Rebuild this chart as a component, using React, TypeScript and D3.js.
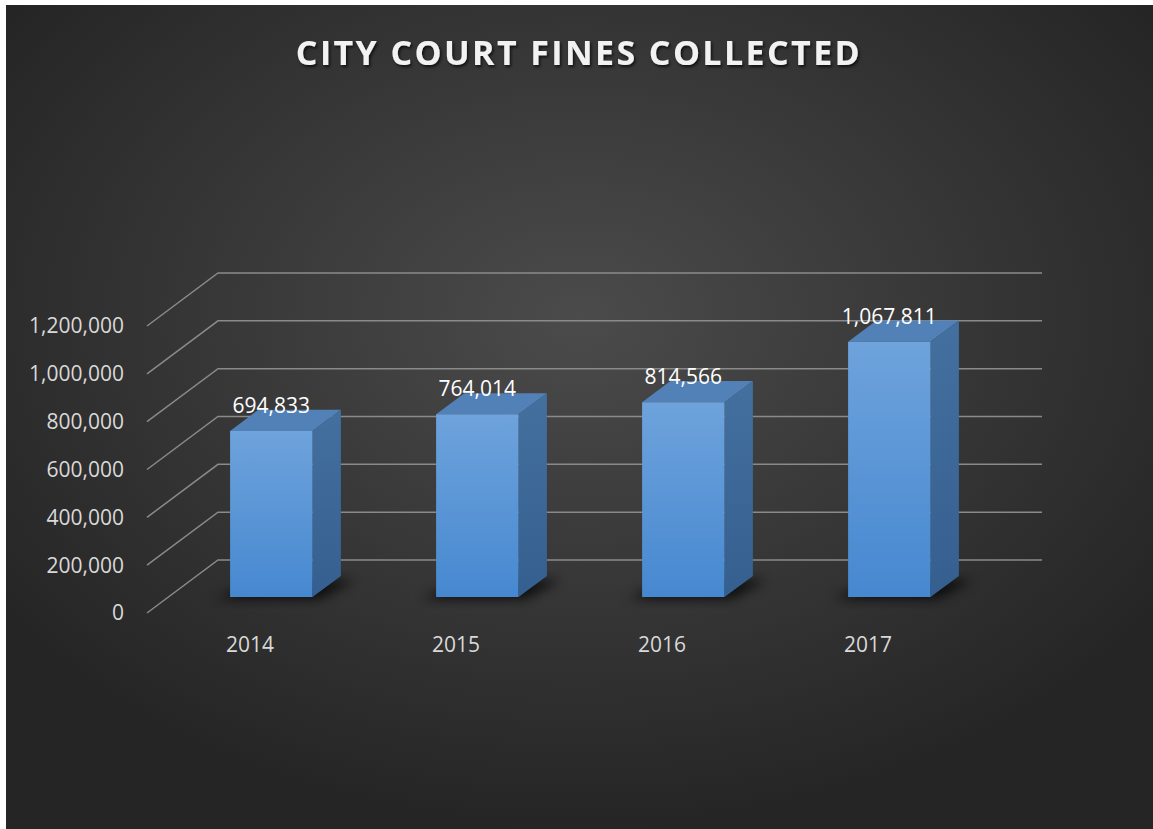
import React from "react";
import * as d3 from "d3";

const years = ["2014", "2015", "2016", "2017"];
const fines = [694833, 764014, 814566, 1067811];
const yTicks = [0, 200000, 400000, 600000, 800000, 1000000, 1200000];

const W = 1153;
const H = 829;
// oblique 3d offset from the front of the floor to the back wall
const DX = 71;
const DY = -53;
const D0 = 0.3;
const D1 = 0.7;

const x = d3.scaleBand().domain(years).range([147, 971]).paddingInner(0.6).paddingOuter(0.3);
const y = d3.scaleLinear().domain([0, 1200000]).range([613, 326]);
const fmt = d3.format(",");

const pt = (px: number, py: number, d: number) => [px + DX * d, py + DY * d];
const poly = (pts: number[][]) => d3.line()(pts as [number, number][]) + "Z";

const font = "'Open Sans', 'Noto Sans', sans-serif";

export default function App() {
  const bw = x.bandwidth();
  return (
    <svg width={W} height={H} style={{ position: "absolute", left: 0, top: 0 }} fontFamily={font}>
      <defs>
        <radialGradient id="bg" cx="50%" cy="38%" r="62%">
          <stop offset="0%" stopColor="#4b4b4b" />
          <stop offset="55%" stopColor="#363636" />
          <stop offset="100%" stopColor="#252525" />
        </radialGradient>
        <linearGradient id="front" x1="0" y1="0" x2="0" y2="1">
          <stop offset="0%" stopColor="#6ea3dc" />
          <stop offset="100%" stopColor="#4688d0" />
        </linearGradient>
        <linearGradient id="side" x1="0" y1="0" x2="0" y2="1">
          <stop offset="0%" stopColor="#44709f" />
          <stop offset="100%" stopColor="#345f8f" />
        </linearGradient>
        <filter id="blur" x="-50%" y="-50%" width="200%" height="200%">
          <feGaussianBlur stdDeviation="6" />
        </filter>
        <filter id="tshadow" x="-10%" y="-30%" width="120%" height="160%">
          <feDropShadow dx="1.5" dy="2" stdDeviation="1.5" floodColor="#000" floodOpacity="0.7" />
        </filter>
      </defs>
      <rect x={6} y={5} width={W - 6} height={H - 5} fill="url(#bg)" />

      <text
        x={579}
        y={65}
        textAnchor="middle"
        fontSize={34}
        fontWeight="bold"
        letterSpacing={2.4}
        fill="#f2f2f2"
        filter="url(#tshadow)"
      >
        CITY COURT FINES COLLECTED
      </text>

      {/* gridlines: left wall diagonal + back wall */}
      {yTicks.map((t) => {
        const [fx, fy] = pt(147, y(t), 0);
        const [bx, by] = pt(147, y(t), 1);
        const [ex] = pt(971, y(t), 1);
        return (
          <g key={t}>
            <path d={`M${fx},${fy}L${bx},${by}L${ex},${by}`} fill="none" stroke="#8a8a8a" strokeWidth={1.5} />
            <text x={124} y={fy} dy="0.35em" textAnchor="end" fontSize={21} fill="#d9d9d9">
              {fmt(t)}
            </text>
          </g>
        );
      })}

      {/* bars */}
      {years.map((yr, i) => {
        const x0 = x(yr) as number;
        const x1 = x0 + bw;
        const v = fines[i];
        const base = y(0);
        const top = y(v);
        const fbl = pt(x0, base, D0);
        const fbr = pt(x1, base, D0);
        const ftl = pt(x0, top, D0);
        const ftr = pt(x1, top, D0);
        const bbr = pt(x1, base, D1);
        const btl = pt(x0, top, D1);
        const btr = pt(x1, top, D1);
        const bbl = pt(x0, base, D1);
        return (
          <g key={yr}>
            <path
              d={poly([
                [fbl[0] - 14, fbl[1] + 2],
                [fbr[0] + 6, fbr[1] + 2],
                [bbr[0] + 14, bbr[1] + 4],
                [bbl[0], bbl[1] + 4],
              ])}
              fill="#000"
              opacity={0.75}
              filter="url(#blur)"
            />
            <path d={poly([ftl, ftr, btr, btl])} fill="#5281b8" />
            <path d={poly([fbr, ftr, btr, bbr])} fill="url(#side)" />
            <path d={poly([fbl, fbr, ftr, ftl])} fill="url(#front)" />
            <text
              x={(fbl[0] + fbr[0]) / 2}
              y={ftl[1] - 18}
              textAnchor="middle"
              fontSize={21}
              fill="#ffffff"
            >
              {fmt(v)}
            </text>
            <text
              x={x0 + bw / 2}
              y={645}
              dy="0.35em"
              textAnchor="middle"
              fontSize={21}
              fill="#d9d9d9"
            >
              {yr}
            </text>
          </g>
        );
      })}
    </svg>
  );
}
